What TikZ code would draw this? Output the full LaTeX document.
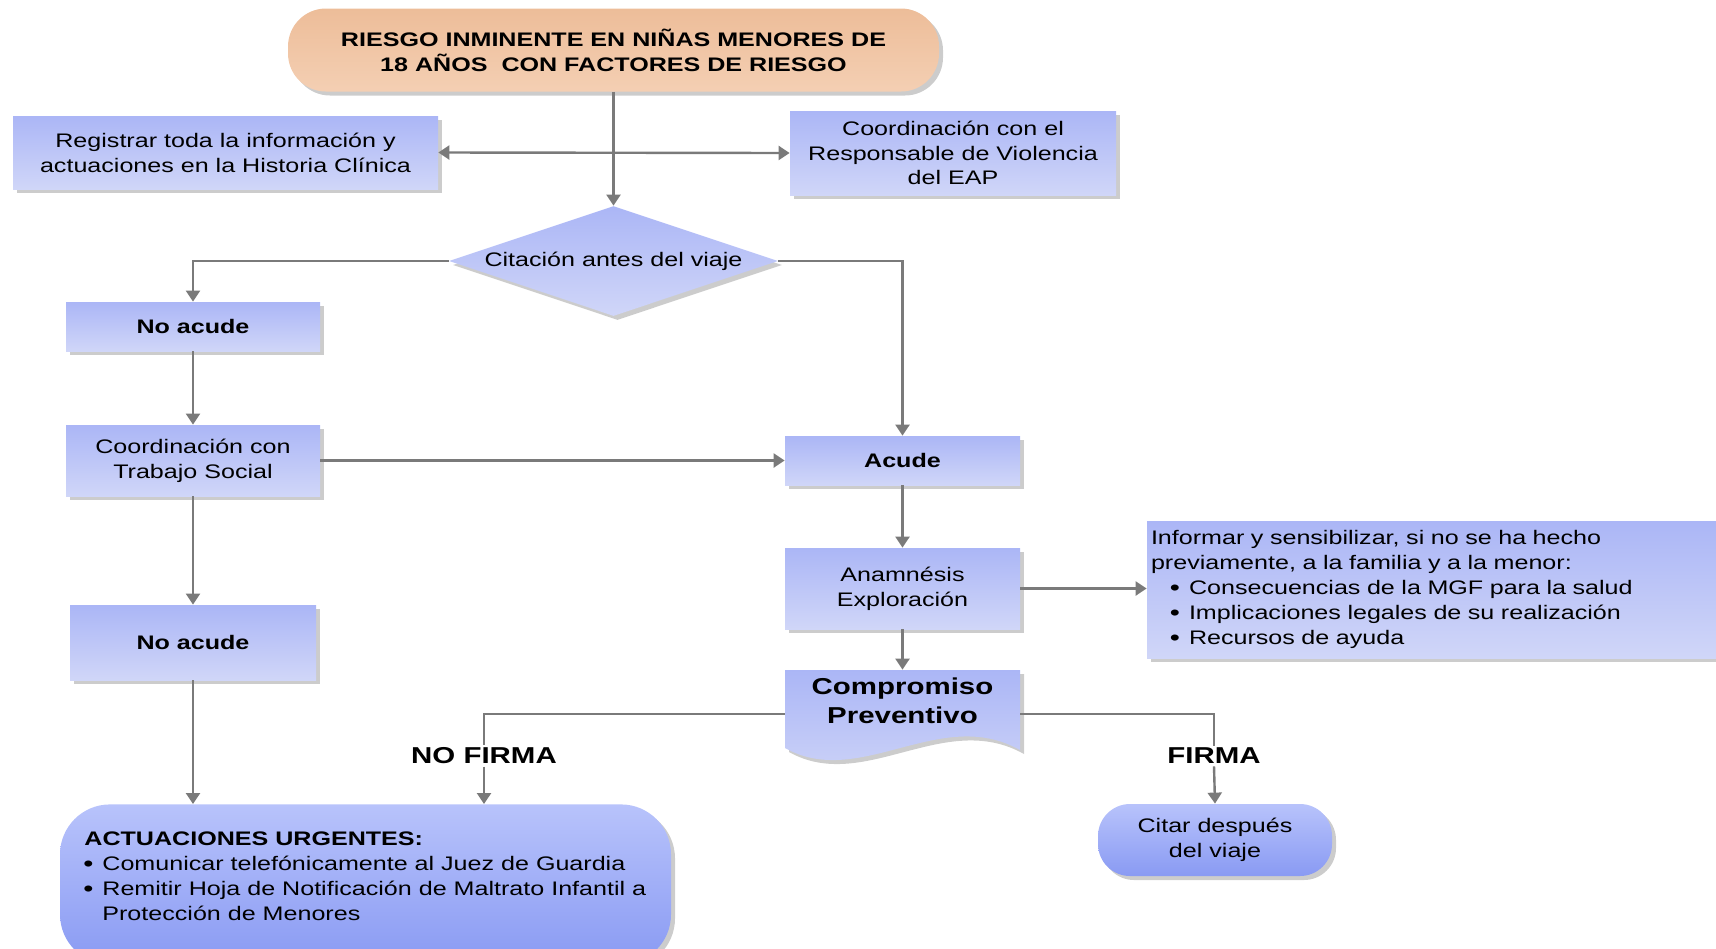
\documentclass[tikz,border=0pt]{standalone}
\usepackage{fontspec}
\setmainfont{Liberation Sans}[FakeStretch=1.28]
\usetikzlibrary{shapes.geometric,shadows,arrows.meta,calc}
\definecolor{bxTop}{HTML}{ABB6F6}
\definecolor{bxBot}{HTML}{D0D6F8}
\definecolor{pkTop}{HTML}{EDBD99}
\definecolor{pkBot}{HTML}{F4CFB3}
\definecolor{rdTop}{HTML}{B8C3FB}
\definecolor{rdBot}{HTML}{899AF3}
\definecolor{lnGray}{HTML}{7A7A7A}
\newcommand\bodyfont{\fontsize{9.8pt}{12.4pt}\selectfont}
\newcommand\listfont{\fontsize{9.8pt}{12.5pt}\selectfont}
\newcommand\bigfont{\fontsize{11.5pt}{14.4pt}\selectfont\bfseries}
\newcommand\itm[1]{\makebox[#1][r]{\raisebox{-0.12ex}{\scalebox{1.15}{•}}\hspace{4.5pt}}}
\begin{document}
\begin{tikzpicture}[x=0.5pt,y=-0.5pt,
 shd/.style={drop shadow={shadow xshift=2pt,shadow yshift=-2pt,fill=black,opacity=0.2}},
 box/.style={rectangle,draw=none,top color=bxTop,bottom color=bxBot,shd,inner sep=0pt,align=center,font=\bodyfont,text=black},
 bbox/.style={box,font=\bodyfont\bfseries},
 rbox/.style={rectangle,draw=none,top color=rdTop,bottom color=rdBot,shd,inner sep=0pt,align=center,font=\bodyfont},
 ln/.style={draw=lnGray,line width=1.2pt},
 arr/.style={ln,-{Triangle[width=7pt,length=5.5pt]}},
 darr/.style={ln,{Triangle[width=7pt,length=5.5pt]}-{Triangle[width=7pt,length=5.5pt]}},
 lbl/.style={font=\bigfont,inner sep=1pt}]
\useasboundingbox (0,0) rectangle (1716,948);

% top
\node[rectangle,rounded corners=19pt,top color=pkTop,bottom color=pkBot,shd,
  minimum width=325.5pt,minimum height=41.5pt,inner sep=0pt,align=center,
  font=\bodyfont\bfseries] (top) at (613.5,50)
  {RIESGO INMINENTE EN NIÑAS MENORES DE\\18 AÑOS\ \ CON FACTORES DE RIESGO};

\node[box,minimum width=212.5pt,minimum height=36.5pt] (reg) at (225.5,152.5)
  {Registrar toda la información y\\actuaciones en la Historia Clínica};
\node[box,minimum width=163pt,minimum height=42pt] (eap) at (953,153)
  {Coordinación con el\\Responsable de Violencia\\del EAP};

\node[diamond,aspect=2.96,draw=none,top color=bxTop,bottom color=bxBot,shd,
  minimum width=164.5pt,minimum height=55pt,inner sep=0pt,font=\bodyfont] (cit) at (613.5,261)
  {Citación antes del viaje};

\node[bbox,minimum width=127pt,minimum height=24.5pt] (noac1) at (193,326.5) {No acude};
\node[box,minimum width=127pt,minimum height=35.5pt] (cts) at (193,460.5)
  {Coordinación con\\Trabajo Social};
\node[bbox,minimum width=123pt,minimum height=37.5pt] (noac2) at (193,642.5) {No acude};

\node[bbox,minimum width=117.5pt,minimum height=24.5pt] (acude) at (902.5,460.5) {Acude};
\node[box,minimum width=117.5pt,minimum height=40.5pt] (anam) at (902.5,588.5)
  {Anamnésis\\Exploración};

\node[box,minimum width=286.5pt,minimum height=68.5pt,text width=282.5pt,inner xsep=2pt,
  align=left,font=\listfont] (inf) at (1433.5,589.5)
  {Informar y sensibilizar, si no se ha hecho\\
   previamente, a la familia y a la menor:\\
   \itm{19pt}Consecuencias de la MGF para la salud\\
   \itm{19pt}Implicaciones legales de su realización\\
   \itm{19pt}Recursos de ayuda};

% compromiso preventivo (document shape)
\node[minimum width=117.5pt,minimum height=44pt,inner sep=0pt] (comp) at (902.5,714) {};
\path[top color=bxTop,bottom color=bxBot,shd]
  (785,670) -- (1020,670) -- (1020,750)
  .. controls (940,705) and (860,790) .. (785,748) -- cycle;
\node[font=\bigfont,align=center,inner sep=0pt] (compt) at (902.5,701) {Compromiso\\Preventivo};

\node[lbl] (nof) at (484,756) {NO FIRMA};
\node[lbl] (fir) at (1214,756) {FIRMA};

\begin{scope}
\clip (0,0) rectangle (1716,948);
\node[rbox,rounded corners=25pt,minimum width=305.5pt,minimum height=80pt,anchor=north] (act) at (365.5,804) {};
\end{scope}
\node[anchor=north west,align=left,font=\listfont,inner sep=0pt] (actt) at (84,831)
  {\textbf{ACTUACIONES URGENTES:}\\
   \itm{9pt}Comunicar telefónicamente al Juez de Guardia\\
   \itm{9pt}Remitir Hoja de Notificación de Maltrato Infantil a\\
   \hspace*{9pt}Protección de Menores};

\node[rbox,rounded corners=16pt,minimum width=117pt,minimum height=36pt] (cita) at (1215,840)
  {Citar después\\del viaje};

% connectors
\draw[arr] (top.south) -- (cit.north);
\draw[darr] (reg.east) -- (eap.west);
\draw[arr] (cit.west) -| (noac1.north);
\draw[arr] (cit.east) -| (acude.north);
\draw[arr] (noac1.south) -- (cts.north);
\draw[arr] (cts.east) -- (acude.west);
\draw[arr] (cts.south) -- (noac2.north);
\draw[arr] (noac2.south) -- (noac2.south |- act.north);
\draw[arr] (acude.south) -- (anam.north);
\draw[arr] (anam.east) -- (inf.west |- anam.east);
\draw[arr] (anam.south) -- (comp.north);
\draw[ln] (comp.west) -| (nof.north);
\draw[arr] (nof.south) -- (nof.south |- act.north);
\draw[ln] (comp.east) -| (fir.north);
\draw[arr] (fir.south) -- (cita.north);
\end{tikzpicture}
\end{document}
